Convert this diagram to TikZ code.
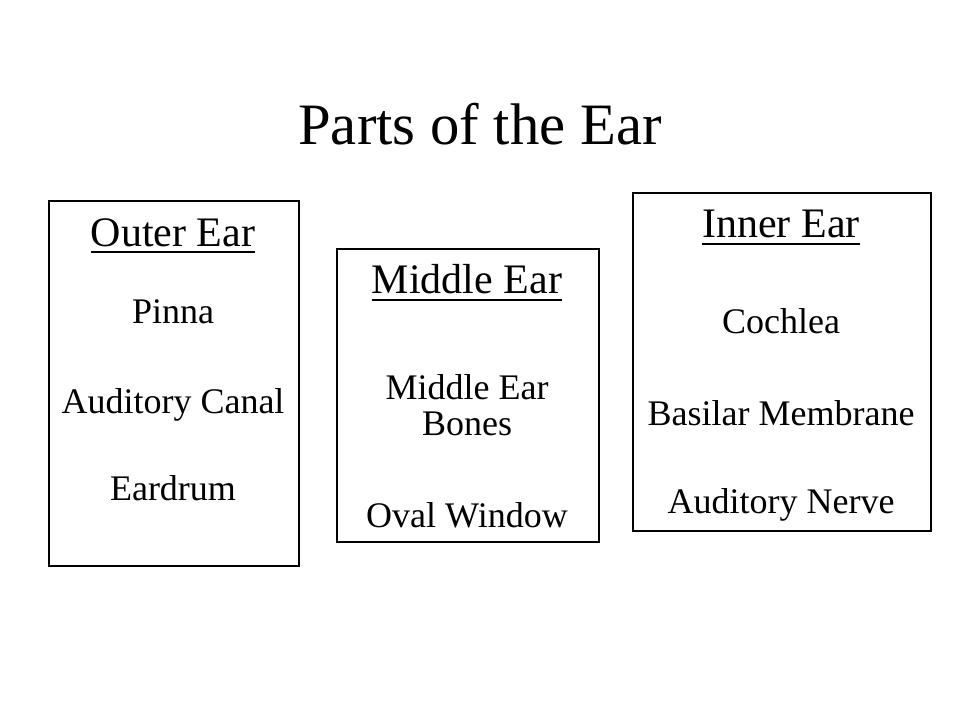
\documentclass[tikz,border=0pt]{standalone}
\usepackage{fontspec}
\setmainfont{Liberation Serif}
\begin{document}
\begin{tikzpicture}[x=0.75pt,y=-0.75pt,
  boxnode/.style={draw, line width=1.5pt, inner sep=0pt, anchor=north west},
  titletext/.style={font=\fontsize{44}{48}\selectfont, anchor=base, inner sep=0pt},
  headtext/.style={font=\fontsize{31.5}{36}\selectfont, anchor=base, inner sep=0pt},
  itemtext/.style={font=\fontsize{27}{30}\selectfont, anchor=base, inner sep=0pt},
  uline/.style={line width=1.5pt}]
\useasboundingbox (0,0) rectangle (960,720);
\fill[white] (0,0) rectangle (960,720);

\node[titletext] (title) at (480,145) {Parts of the Ear};

% boxes
\node[boxnode, minimum width=187.5pt, minimum height=273.75pt] (outer) at (48,200) {};
\node[boxnode, minimum width=196.5pt, minimum height=219.75pt] (middle) at (336,248) {};
\node[boxnode, minimum width=223.5pt, minimum height=253.5pt] (inner) at (632,192) {};

% outer ear
\node[headtext] (oh) at (173,247) {Outer Ear};
\draw[uline] ([yshift=-4pt]oh.base west) -- ([yshift=-4pt]oh.base east);
\node[itemtext] (o1) at (173,323) {Pinna};
\node[itemtext] (o2) at (173,413) {Auditory Canal};
\node[itemtext] (o3) at (173,500) {Eardrum};

% middle ear
\node[headtext] (mh) at (467,293) {Middle Ear};
\draw[uline] ([yshift=-5pt]mh.base west) -- ([yshift=-5pt]mh.base east);
\node[itemtext] (m1a) at (467,399) {Middle Ear};
\node[itemtext] (m1b) at (467,435) {Bones};
\node[itemtext] (m2) at (467,527) {Oval Window};

% inner ear
\node[headtext] (ih) at (781,238) {Inner Ear};
\draw[uline] ([yshift=-4.5pt]ih.base west) -- ([yshift=-4.5pt]ih.base east);
\node[itemtext] (i1) at (781,333) {Cochlea};
\node[itemtext] (i2) at (781,425) {Basilar Membrane};
\node[itemtext] (i3) at (781,513) {Auditory Nerve};
\end{tikzpicture}
\end{document}
